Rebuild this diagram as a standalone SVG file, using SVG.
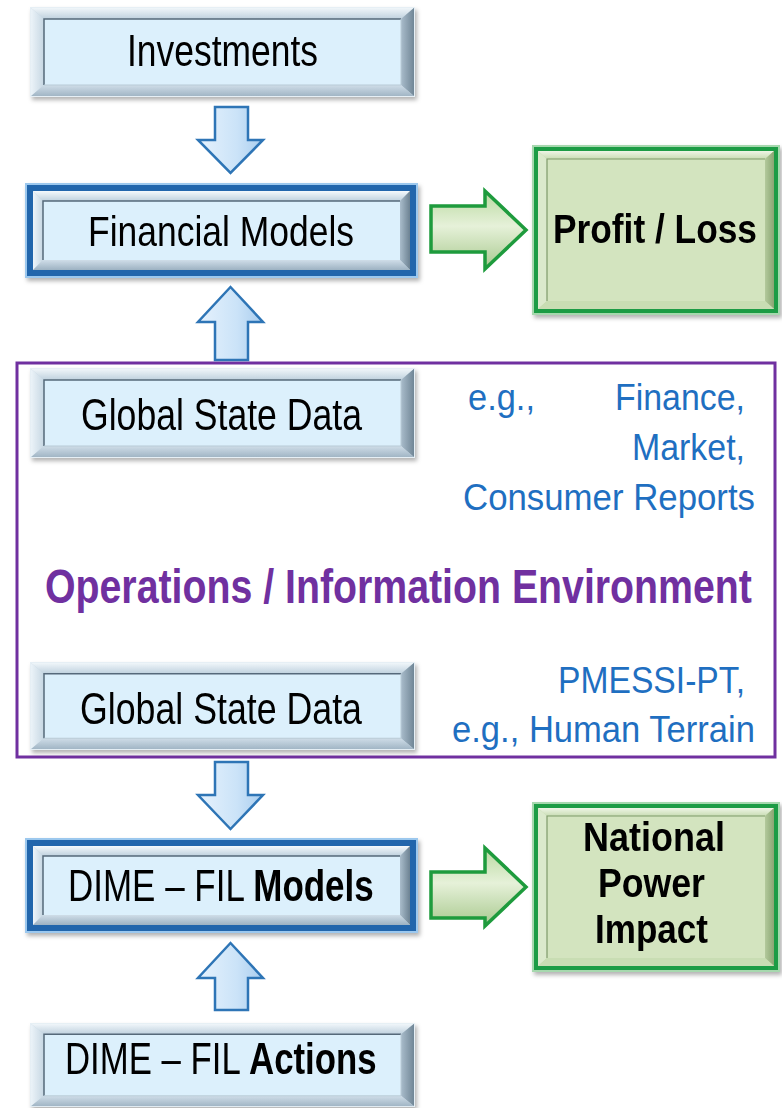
<svg xmlns="http://www.w3.org/2000/svg" xmlns:xlink="http://www.w3.org/1999/xlink" width="782" height="1108" viewBox="0 0 782 1108">
<style>
.lbl{font-family:"Liberation Sans",Arial,sans-serif;font-size:44px;fill:#000}
.b{font-weight:bold}
.blue{font-family:"Liberation Sans",Arial,sans-serif;font-size:37px;fill:#1f6fc1}
.purple{font-family:"Liberation Sans",Arial,sans-serif;font-size:40px;font-weight:bold;fill:#7030a0}
.green{font-family:"Liberation Sans",Arial,sans-serif;font-size:40px;font-weight:bold;fill:#000}
.barrow{fill:url(#gArrowB);stroke:#2e75b6;stroke-width:2.5;stroke-linejoin:miter}
.garrow{fill:url(#gArrowG);stroke:#1e9b3d;stroke-width:3.5;stroke-linejoin:miter}
</style>
<defs>
<filter id="sh" x="-10%" y="-10%" width="125%" height="130%">
<feDropShadow dx="2" dy="3" stdDeviation="2" flood-color="#000" flood-opacity="0.3"/>
</filter>
<linearGradient id="gbTop" x1="0" y1="0" x2="0" y2="1"><stop offset="0" stop-color="#f4f9fc"/><stop offset="1" stop-color="#bfd1de"/></linearGradient>
<linearGradient id="gbLeft" x1="0" y1="0" x2="1" y2="0"><stop offset="0" stop-color="#eef5fa"/><stop offset="1" stop-color="#c6d7e3"/></linearGradient>
<linearGradient id="gbRight" x1="0" y1="0" x2="1" y2="0"><stop offset="0" stop-color="#a9bccb"/><stop offset="1" stop-color="#6c8292"/></linearGradient>
<linearGradient id="gbBottom" x1="0" y1="0" x2="0" y2="1"><stop offset="0" stop-color="#cfdde8"/><stop offset="1" stop-color="#9db2c2"/></linearGradient>
<linearGradient id="ggTop" x1="0" y1="0" x2="0" y2="1"><stop offset="0" stop-color="#eef5e6"/><stop offset="1" stop-color="#c9ddb4"/></linearGradient>
<linearGradient id="ggRight" x1="0" y1="0" x2="1" y2="0"><stop offset="0" stop-color="#b3c99c"/><stop offset="1" stop-color="#8aa673"/></linearGradient>
<linearGradient id="gArrowB" x1="0" y1="0" x2="1" y2="0"><stop offset="0" stop-color="#e6f2fd"/><stop offset="0.6" stop-color="#cbe3f8"/><stop offset="1" stop-color="#a9cdee"/></linearGradient>
<linearGradient id="gArrowG" x1="0" y1="0" x2="0" y2="1"><stop offset="0" stop-color="#b9d9a0"/><stop offset="0.45" stop-color="#e6f1d9"/><stop offset="1" stop-color="#a8c98e"/></linearGradient>
<symbol id="bevelGray" viewBox="0 0 385 90" preserveAspectRatio="none">
<rect width="385" height="90" fill="#c3d4e0"/>
<polygon points="0,0 385,0 371,12 14,12" fill="url(#gbTop)"/>
<polygon points="0,0 14,12 14,78 0,90" fill="url(#gbLeft)"/>
<polygon points="385,0 385,90 371,78 371,12" fill="url(#gbRight)"/>
<polygon points="0,90 14,78 371,78 385,90" fill="url(#gbBottom)"/>
<rect x="14" y="12" width="357" height="66" fill="#dcf0fc"/>
<path d="M14,78 V12 H371" fill="none" stroke="#56697a" stroke-width="1.5"/>
<path d="M371,12 V78 H14" fill="none" stroke="#b8cad6" stroke-width="1"/>
<rect x="0.5" y="0.5" width="384" height="89" fill="none" stroke="#e6eff5"/>
</symbol>
<symbol id="bevelBlue" viewBox="0 0 393 95" preserveAspectRatio="none">
<rect width="393" height="95" fill="#9cc8ee"/>
<rect x="2" y="2" width="389" height="91" fill="#2466ac"/>
<rect x="8" y="8" width="377" height="79" fill="#c3d4e0"/>
<polygon points="8,8 385,8 375,18 18,18" fill="url(#gbTop)"/>
<polygon points="8,8 18,18 18,77 8,87" fill="url(#gbLeft)"/>
<polygon points="385,8 385,87 375,77 375,18" fill="url(#gbRight)"/>
<polygon points="8,87 18,77 375,77 385,87" fill="url(#gbBottom)"/>
<rect x="18" y="18" width="357" height="59" fill="#dcf0fc"/>
<path d="M18,77 V18 H375" fill="none" stroke="#56697a" stroke-width="1.5"/>
</symbol>
<symbol id="bevelGreen" viewBox="0 0 248 170" preserveAspectRatio="none">
<rect width="248" height="170" fill="#a6d8ae"/>
<rect x="2" y="2" width="244" height="166" fill="#1f9c45"/>
<rect x="6" y="6" width="236" height="158" fill="#c0d8a8"/>
<polygon points="6,6 242,6 233,14 15,14" fill="url(#ggTop)"/>
<polygon points="6,6 15,14 15,156 6,164" fill="#dbe9cc"/>
<polygon points="242,6 242,164 233,156 233,14" fill="url(#ggRight)"/>
<polygon points="6,164 15,156 233,156 242,164" fill="#c8ddb3"/>
<rect x="15" y="14" width="218" height="142" fill="#d3e4bf"/>
<path d="M15,156 V14 H233" fill="none" stroke="#7f9a6a" stroke-width="1.2"/>
</symbol>
</defs>
<rect width="782" height="1108" fill="#ffffff"/>

<g id="environment">
<rect x="17" y="363" width="758" height="394" fill="none" stroke="#7030a0" stroke-width="3"/>
<text class="purple" transform="translate(45,603) scale(0.982,1.2)" x="0" y="0">Operations / Information Environment</text>
<text class="blue" x="468" y="410" textLength="67" lengthAdjust="spacingAndGlyphs">e.g.,</text>
<text class="blue" x="615" y="410" textLength="130" lengthAdjust="spacingAndGlyphs">Finance,</text>
<text class="blue" x="632" y="460" textLength="113" lengthAdjust="spacingAndGlyphs">Market,</text>
<text class="blue" x="463" y="510" textLength="292" lengthAdjust="spacingAndGlyphs">Consumer Reports</text>
<text class="blue" x="558" y="693" textLength="187" lengthAdjust="spacingAndGlyphs">PMESSI-PT,</text>
<text class="blue" x="452" y="742" textLength="303" lengthAdjust="spacingAndGlyphs">e.g., Human Terrain</text>
</g>

<g id="investments" filter="url(#sh)">
<use xlink:href="#bevelGray" href="#bevelGray" x="30" y="7" width="385" height="90"/>
<text class="lbl" x="127" y="66" textLength="191" lengthAdjust="spacingAndGlyphs">Investments</text>
</g>

<g id="financial-models" filter="url(#sh)">
<use xlink:href="#bevelBlue" href="#bevelBlue" x="25" y="183" width="393" height="95"/>
<text class="lbl" style="font-size:42px" x="88" y="246" textLength="266" lengthAdjust="spacingAndGlyphs">Financial Models</text>
</g>

<g id="profit-loss" filter="url(#sh)">
<use xlink:href="#bevelGreen" href="#bevelGreen" x="532" y="145" width="248" height="170"/>
<text class="green" x="553" y="243" textLength="204" lengthAdjust="spacingAndGlyphs">Profit / Loss</text>
</g>

<g id="global-state-data-1" filter="url(#sh)">
<use xlink:href="#bevelGray" href="#bevelGray" x="30" y="368" width="385" height="90"/>
<text class="lbl" x="81" y="430" textLength="281" lengthAdjust="spacingAndGlyphs">Global State Data</text>
</g>

<g id="global-state-data-2" filter="url(#sh)">
<use xlink:href="#bevelGray" href="#bevelGray" x="30" y="662" width="385" height="88"/>
<text class="lbl" x="80" y="724" textLength="282" lengthAdjust="spacingAndGlyphs">Global State Data</text>
</g>

<g id="dime-fil-models" filter="url(#sh)">
<use xlink:href="#bevelBlue" href="#bevelBlue" x="25" y="838" width="393" height="95"/>
<text class="lbl" transform="translate(68,901) scale(0.795,1)" x="0" y="0">DIME – FIL <tspan class="b">Models</tspan></text>
</g>

<g id="national-power-impact" filter="url(#sh)">
<use xlink:href="#bevelGreen" href="#bevelGreen" x="532" y="802" width="248" height="170"/>
<text class="green" x="583" y="851" textLength="142" lengthAdjust="spacingAndGlyphs">National</text>
<text class="green" x="598" y="897" textLength="107" lengthAdjust="spacingAndGlyphs">Power</text>
<text class="green" x="595" y="943" textLength="113" lengthAdjust="spacingAndGlyphs">Impact</text>
</g>

<g id="dime-fil-actions" filter="url(#sh)">
<use xlink:href="#bevelGray" href="#bevelGray" x="30" y="1023" width="385" height="84"/>
<text class="lbl" transform="translate(65,1074) scale(0.79,1)" x="0" y="0">DIME – FIL <tspan class="b">Actions</tspan></text>
</g>

<g id="connectors">
<path class="barrow" d="M215,107 H248 V140 H263 L230.5,173 L198,140 H215 Z"/>
<path class="barrow" d="M230.5,287 L263,322 H248 V360 H215 V322 H198 Z"/>
<path class="barrow" d="M215,762 H248 V795 H263 L230.5,829 L198,795 H215 Z"/>
<path class="barrow" d="M230.5,943 L263,978 H248 V1010 H215 V978 H198 Z"/>
<path class="garrow" d="M431,206 H485 V191 L526,230 L485,269 V252 H431 Z"/>
<path class="garrow" d="M431,872 H485 V848 L526,887 L485,926 V918 H431 Z"/>
</g>
</svg>
